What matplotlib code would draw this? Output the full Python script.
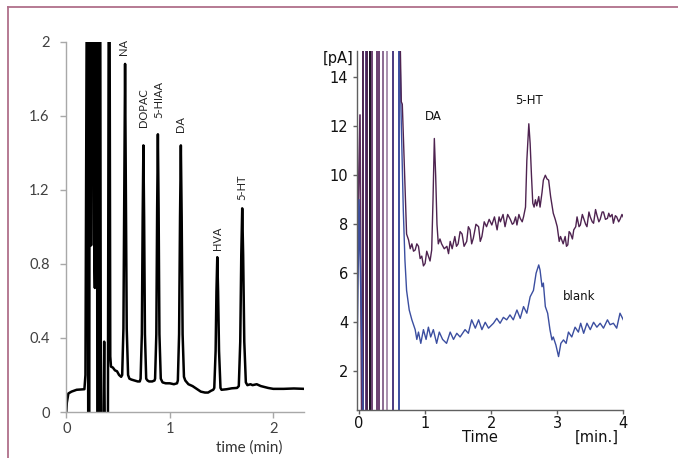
import matplotlib
matplotlib.use("Agg")
import matplotlib.pyplot as plt
from matplotlib.lines import Line2D

# ---------------- data: left chromatogram ----------------
left_t = [0.0, 0.005, 0.02, 0.05, 0.10, 0.175, 0.185, 0.198, 0.205, 0.212, 0.222, 0.226,
          0.236, 0.240, 0.245, 0.262, 0.270, 0.276, 0.282, 0.296, 0.300, 0.312, 0.318,
          0.328, 0.334, 0.358, 0.366, 0.372, 0.402, 0.410, 0.418, 0.425, 0.432,
          0.45, 0.47, 0.49, 0.51, 0.53,
          0.540, 0.552, 0.561, 0.568, 0.575, 0.584, 0.597, 0.61,
          0.63, 0.66, 0.69, 0.71,
          0.718, 0.730, 0.738, 0.745, 0.752, 0.760, 0.772, 0.785, 0.80, 0.83, 0.852,
          0.858, 0.870, 0.878, 0.885, 0.892, 0.900, 0.913, 0.93, 0.96, 1.0, 1.04, 1.07,
          1.078, 1.090, 1.099, 1.107, 1.115, 1.124, 1.137, 1.15, 1.18, 1.22, 1.26, 1.30,
          1.34, 1.37, 1.40, 1.42,
          1.430, 1.443, 1.451, 1.459, 1.467, 1.476, 1.490, 1.50, 1.55, 1.60, 1.65,
          1.667, 1.681, 1.691, 1.700, 1.709, 1.720, 1.735, 1.75, 1.78, 1.80, 1.84, 1.88,
          1.95, 2.0, 2.1, 2.2, 2.3]
left_v = [0.0, 0.05, 0.10, 0.11, 0.12, 0.123, 0.20, 2.3, 2.3, -0.1, -0.1, 2.3,
          2.3, 0.9, 2.3, 2.3, 0.9, 0.67, 2.3, 2.3, -0.1, -0.1, 2.3,
          2.3, -0.1, -0.1, 0.38, -0.1, -0.1, 2.3, 2.3, 0.30, 0.245,
          0.24, 0.225, 0.22, 0.20, 0.19,
          0.20, 0.45, 1.25, 1.88, 1.25, 0.45, 0.20, 0.18,
          0.175, 0.17, 0.165, 0.165,
          0.18, 0.42, 1.05, 1.44, 1.05, 0.42, 0.18, 0.17, 0.165, 0.165, 0.17,
          0.18, 0.42, 1.10, 1.50, 1.10, 0.42, 0.18, 0.16, 0.155, 0.155, 0.15, 0.155,
          0.17, 0.42, 1.05, 1.44, 1.05, 0.42, 0.19, 0.17, 0.15, 0.14, 0.125, 0.11,
          0.105, 0.105, 0.115, 0.12,
          0.13, 0.33, 0.65, 0.836, 0.65, 0.33, 0.13, 0.12, 0.123, 0.128, 0.13,
          0.14, 0.38, 0.85, 1.10, 0.85, 0.38, 0.16, 0.145, 0.15, 0.145, 0.15, 0.14,
          0.13, 0.125, 0.125, 0.127, 0.125]

left_labels = ["NA", "DOPAC", "5-HIAA", "DA", "HVA", "5-HT"]
left_label_t = [0.55, 0.745, 0.89, 1.107, 1.459, 1.70]
left_label_v = [1.93, 1.54, 1.59, 1.51, 0.876, 1.146]

left_xticks = [0, 1, 2]
left_yticks = [0, 0.4, 0.8, 1.2, 1.6, 2.0]
left_yticklabels = ["0", "0.4", "0.8", "1.2", "1.6", "2"]

# ---------------- data: right chromatogram ----------------
purple_lead_t = [-0.03, -0.01, 0.015, 0.04]
purple_lead_v = [8.0, 9.0, 12.46, 0.0]
blue_lead_t = [-0.035, 0.0, 0.03, 0.065]
blue_lead_v = [1.8, 9.0, 5.0, 0.0]

spike_t = [0.065, 0.10, 0.125, 0.165, 0.19, 0.27, 0.31, 0.37, 0.43, 0.51, 0.605]
spike_colors = ["#4a2450", "#5b3a7a", "#4a2450", "#1a0f1f", "#6a4070", "#6a4070",
                "#6a4070", "#8a6a90", "#a890ad", "#4a3a80", "#3b4ea0"]

purple_t = [0.62, 0.64, 0.655, 0.67, 0.72, 0.75, 0.775, 0.80, 0.825, 0.85, 0.875, 0.90,
            0.925, 0.95, 0.975, 1.00, 1.025, 1.05, 1.075, 1.10, 1.12, 1.14, 1.16, 1.18,
            1.20, 1.225, 1.25, 1.29, 1.33, 1.355, 1.38, 1.41, 1.45, 1.475, 1.50, 1.53,
            1.56, 1.59, 1.63, 1.655, 1.68, 1.705, 1.73, 1.77, 1.81, 1.835, 1.86, 1.895,
            1.93, 1.97, 2.01, 2.05, 2.09, 2.12, 2.14, 2.18, 2.21, 2.25, 2.29, 2.32, 2.34,
            2.37, 2.39, 2.42, 2.44, 2.47, 2.49, 2.52, 2.54, 2.57, 2.59, 2.61, 2.63, 2.65,
            2.67, 2.69, 2.72, 2.74, 2.77, 2.79, 2.82, 2.845, 2.87, 2.90, 2.94, 2.97, 3.00,
            3.03, 3.05, 3.09, 3.12, 3.14, 3.16, 3.18, 3.20, 3.23, 3.25, 3.28, 3.30, 3.33,
            3.35, 3.38, 3.40, 3.43, 3.45, 3.48, 3.50, 3.53, 3.55, 3.58, 3.60, 3.63, 3.65,
            3.68, 3.70, 3.73, 3.76, 3.78, 3.80, 3.83, 3.85, 3.88, 3.90, 3.93, 3.95, 3.98,
            4.0]
purple_v = [16.0, 13.0, 12.9, 11.7, 7.6, 7.36, 7.0, 7.2, 6.9, 6.95, 7.2, 7.1,
            6.6, 6.7, 6.3, 6.4, 6.9, 6.7, 6.5, 6.95, 9.0, 11.5, 10.0, 8.0,
            7.2, 7.4, 7.2, 7.0, 7.1, 6.8, 7.3, 7.0, 7.5, 7.1, 7.2, 7.7,
            7.6, 7.1, 7.3, 7.9, 7.77, 7.2, 7.43, 8.0, 7.9, 7.3, 7.5, 8.1,
            7.9, 8.2, 7.97, 8.3, 7.77, 8.3, 8.1, 8.4, 7.9, 8.4, 8.2, 8.0, 8.04,
            8.3, 7.97, 8.4, 8.24, 8.1, 8.3, 8.7, 10.6, 12.1, 11.3, 10.0, 8.86, 8.7,
            9.0, 8.75, 9.13, 8.7, 9.3, 9.8, 10.0, 9.85, 9.8, 9.13, 8.45, 8.2, 7.9,
            7.3, 7.5, 7.2, 7.5, 7.1, 7.16, 7.7, 7.63, 7.4, 7.77, 7.9, 8.3, 7.9,
            7.97, 8.4, 8.24, 8.0, 7.9, 8.5, 8.3, 8.1, 8.04, 8.6, 8.38, 8.1, 8.2,
            8.5, 8.5, 8.2, 8.24, 8.45, 8.3, 8.4, 8.04, 8.35, 8.3, 8.1, 8.2, 8.4,
            8.29]

blue_t = [0.615, 0.635, 0.67, 0.695, 0.72, 0.76, 0.80, 0.85, 0.875, 0.90, 0.935, 0.975,
          1.015, 1.05, 1.085, 1.125, 1.175, 1.215, 1.265, 1.325, 1.38, 1.43, 1.48, 1.53,
          1.605, 1.655, 1.705, 1.76, 1.81, 1.86, 1.91, 1.96, 2.035, 2.085, 2.135, 2.185,
          2.235, 2.285, 2.335, 2.39, 2.44, 2.49, 2.54, 2.59, 2.64, 2.68, 2.72, 2.74, 2.77,
          2.79, 2.82, 2.855, 2.89, 2.92, 2.94, 2.98, 3.02, 3.055, 3.095, 3.135, 3.17, 3.22,
          3.27, 3.32, 3.355, 3.40, 3.45, 3.50, 3.55, 3.60, 3.65, 3.70, 3.76, 3.80, 3.85,
          3.90, 3.95, 4.0]
blue_v = [16.0, 12.7, 8.6, 6.54, 5.3, 4.5, 4.1, 3.7, 3.3, 3.6, 3.14, 3.7,
          3.3, 3.8, 3.4, 3.7, 3.14, 3.6, 3.3, 3.14, 3.6, 3.3, 3.55, 3.4,
          3.7, 3.55, 4.1, 3.76, 4.1, 3.7, 4.0, 3.76, 3.96, 4.16, 3.96, 4.2,
          4.1, 4.3, 4.1, 4.5, 4.16, 4.64, 4.37, 5.04, 5.3, 6.0, 6.34, 6.13, 5.45,
          5.6, 4.64, 4.37, 3.7, 3.28, 3.4, 3.07, 2.6, 3.14, 3.28, 3.14, 3.6, 3.4,
          3.8, 3.6, 3.96, 3.55, 3.96, 3.7, 4.0, 3.8, 3.96, 3.76, 4.1, 3.9, 3.96,
          3.76, 4.37, 4.1]

right_labels = ["DA", "5-HT", "blank"]
right_label_t = [1.13, 2.58, 3.33]
right_label_v = [12.38, 13.07, 5.04]

right_xticks = [0, 1, 2, 3, 4]
right_yticks = [2, 4, 6, 8, 10, 12, 14]

# ---------------- figure ----------------
W, H = 678, 458
fig = plt.figure(figsize=(W / 100, H / 100), dpi=100)
fig.patch.set_facecolor("white")

frame_col = "#b0708a"
fig.add_artist(Line2D([8.3 / W, 1.0], [1 - 7.3 / H, 1 - 7.3 / H], color=frame_col, lw=1.3))
fig.add_artist(Line2D([8.3 / W, 8.3 / W], [0.0, 1 - 7.3 / H], color=frame_col, lw=1.3))

# ---- left panel ----
lfont = ["Lato", "DejaVu Sans"]
axL = fig.add_axes([66.3 / W, (H - 412) / H, 238 / W, 370.3 / H])
axL.plot(left_t, left_v, color="black", lw=1.8, solid_joinstyle="round")
axL.set_xlim(0, 2.3)
axL.set_ylim(0, 2.0)
for s in ["top", "right"]:
    axL.spines[s].set_visible(False)
for s in ["left", "bottom"]:
    axL.spines[s].set_color("#a8a8a8")
    axL.spines[s].set_linewidth(1.0)
axL.set_xticks(left_xticks)
axL.set_xticklabels([str(v) for v in left_xticks], family=lfont, fontsize=10.5, color="#404040")
axL.set_yticks(left_yticks)
axL.set_yticklabels(left_yticklabels, family=lfont, fontsize=10.5, color="#404040")
axL.tick_params(axis="both", direction="out", length=4, color="#a8a8a8", width=1.0)
axL.tick_params(axis="y", pad=8)
axL.tick_params(axis="x", pad=3)
for lab, t, v in zip(left_labels, left_label_t, left_label_v):
    axL.text(t, v, lab, rotation=90, ha="center", va="bottom", family=lfont,
             fontsize=8, color="#222222")
fig.text(249 / W, 1 - 448 / H, "time (min)", ha="center", va="center",
         family=lfont, fontsize=11, color="#333333")

# ---- right panel ----
rfont = ["DejaVu Sans"]
axR = fig.add_axes([356.7 / W, (H - 410) / H, 266.6 / W, 359 / H])
for t, c in zip(spike_t, spike_colors):
    axR.axvline(t, color=c, lw=1.4)
axR.plot(purple_lead_t, purple_lead_v, color="#5b2c5e", lw=1.2)
axR.plot(blue_lead_t, blue_lead_v, color="#3b4ea0", lw=1.2)
axR.plot(blue_t, blue_v, color="#3b4ea0", lw=1.0)
axR.plot(purple_t, purple_v, color="#4e2350", lw=1.0)
axR.set_xlim(-0.035, 4.0)
axR.set_ylim(0.42, 15.07)
for s in ["top", "right"]:
    axR.spines[s].set_visible(False)
for s in ["left", "bottom"]:
    axR.spines[s].set_color("#606060")
    axR.spines[s].set_linewidth(1.0)
axR.set_xticks(right_xticks)
axR.set_xticklabels([str(v) for v in right_xticks], family=rfont, fontsize=10.5, color="#111111")
axR.set_yticks(right_yticks)
axR.set_yticklabels([str(v) for v in right_yticks], family=rfont, fontsize=10.5, color="#111111")
axR.tick_params(axis="both", direction="out", length=3, color="#606060", width=1.0)
axR.tick_params(axis="y", pad=3)
axR.tick_params(axis="x", pad=1)
for lab, t, v in zip(right_labels, right_label_t, right_label_v):
    axR.text(t, v, lab, ha="center", va="center", family=rfont, fontsize=8.5, color="#111111")
fig.text(338 / W, 1 - 58 / H, "[pA]", ha="center", va="center", family=rfont,
         fontsize=10.5, color="#111111")
fig.text(480 / W, 1 - 437 / H, "Time", ha="center", va="center", family=rfont,
         fontsize=10.5, color="#111111")
fig.text(597 / W, 1 - 437 / H, "[min.]", ha="center", va="center", family=rfont,
         fontsize=10.5, color="#111111")

fig.savefig("out.png", dpi=100, facecolor="white")
